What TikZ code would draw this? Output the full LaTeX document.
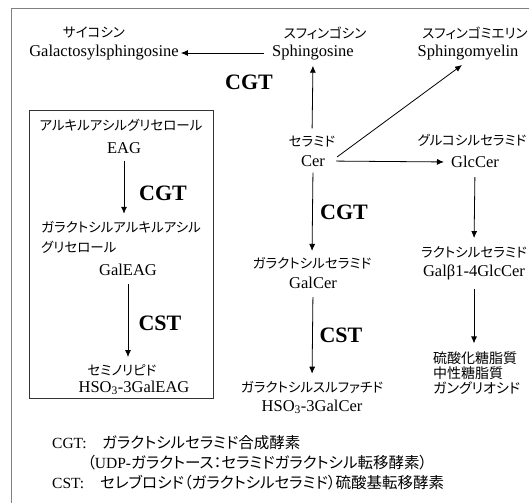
\documentclass[tikz,border=0pt]{standalone}
\usepackage{fontspec}
\setmainfont{Liberation Serif}
\newfontfamily\jp{Noto Sans CJK JP}[RawFeature=+palt]
\usetikzlibrary{arrows.meta}
\begin{document}
\begin{tikzpicture}[x=1pt,y=-1pt,
  lat/.style={font=\fontsize{16.5}{18}\selectfont, inner sep=1pt},
  jpl/.style={font=\jp\fontsize{13.5}{15}\selectfont, inner sep=1pt},
  enz/.style={font=\fontsize{22}{24}\selectfont\bfseries, inner sep=1pt},
  foot/.style={font=\fontsize{15.5}{17}\selectfont, inner sep=0pt, anchor=west},
  arr/.style={-{Latex[length=7pt,width=6pt]}, line width=0.8pt, black},
  ]
\useasboundingbox (0,0) rectangle (529,503);
\draw[gray, line width=1pt] (529,9) -- (11,9) -- (11,503);
\draw[black!80, line width=0.9pt] (29,110) rectangle (213,398);

% top row
\node[jpl] (saiko) at (94,33) {サイコシン};
\node[lat] (galsph) at (104,53) {Galactosylsphingosine};
\node[jpl] (sphjp) at (325,33) {スフィンゴシン};
\node[lat] (sph) at (313,53) {Sphingosine};
\node[jpl] (smjp) at (475,33) {スフィンゴミエリン};
\node[lat] (sm) at (468,53) {Sphingomyelin};
\node[enz] (cgt1) at (249,82) {CGT};

% ceramide column
\node[jpl] (cerjp) at (312,142) {セラミド};
\node[lat] (cer) at (313,161) {Cer};
\node[jpl] (glcjp) at (472,140) {グルコシルセラミド};
\node[lat] (glc) at (475,162) {GlcCer};
\node[enz] (cgt2) at (344,212) {CGT};
\node[jpl] (galcerjp) at (312,263) {ガラクトシルセラミド};
\node[lat] (galcer) at (313,283) {GalCer};
\node[jpl] (lacjp) at (474,252) {ラクトシルセラミド};
\node[lat] (lac) at (474,272) {Galβ1-4GlcCer};
\node[enz] (cst2) at (341,335) {CST};
\node[jpl] (sulfjp) at (312,387) {ガラクトシルスルファチド};
\node[lat] (sulf) at (312,407) {HSO\textsubscript{3}-3GalCer};
\node[jpl, anchor=west, align=left, font=\jp\fontsize{14}{15}\selectfont] (glyco) at (432,373) {硫酸化糖脂質\\中性糖脂質\\ガングリオシド};

% inner box
\node[jpl] (aagjp) at (121,125) {アルキルアシルグリセロール};
\node[lat] (eag) at (124,148) {EAG};
\node[enz] (cgt3) at (163,193) {CGT};
\node[jpl, anchor=west, align=left, font=\jp\fontsize{13.5}{20}\selectfont] (galeagjp) at (40,237) {ガラクトシルアルキルアシル\\グリセロール};
\node[lat] (galeag) at (128,270) {GalEAG};
\node[enz] (cst3) at (160,323) {CST};
\node[jpl] (semijp) at (122,370) {セミノリピド};
\node[lat] (semi) at (134,388) {HSO\textsubscript{3}-3GalEAG};

% footer
\node[foot] (fcgt) at (52,443) {CGT:};
\node[foot, font=\jp\fontsize{15.5}{17}\selectfont] (fcgtjp) at (102,443) {ガラクトシルセラミド合成酵素};
\node[foot] (fudp) at (87,463) {{\jp （}UDP-{\jp ガラクトース：セラミドガラクトシル転移酵素）}};
\node[foot] (fcst) at (52,483) {CST:};
\node[foot, font=\jp\fontsize{15.5}{17}\selectfont] (fcstjp) at (100,483) {セレブロシド（ガラクトシルセラミド）硫酸基転移酵素};

\coordinate (d1) at (337,157);
\coordinate (d2) at (462,65);

% connectors
\draw[arr, shorten <=7pt, shorten >=1pt] (sph.west) -- (galsph.east);
\draw[arr, shorten <=7pt, shorten >=4pt] (cerjp.north) -- (sph.south);
\draw[arr] (d1) -- (d2);
\draw[arr, shorten <=10pt, shorten >=6pt] (cer.east) -- (glc.west);
\draw[arr, shorten <=8pt, shorten >=7pt] (glc.south) -- (lacjp.north);
\draw[arr, shorten <=8pt, shorten >=7pt] (lac.south) -- (lac.south |- glyco.north);
\draw[arr, shorten <=5pt, shorten >=5pt] (cer.south) -- (galcerjp.north);
\draw[arr, shorten <=7pt, shorten >=6pt] (galcer.south) -- (sulfjp.north);
\draw[arr, shorten <=6pt, shorten >=6pt] (eag.south) -- (eag.south |- galeagjp.north);
\draw[arr, shorten <=7pt, shorten >=6pt] (galeag.south) -- (galeag.south |- semijp.north);
\end{tikzpicture}
\end{document}
